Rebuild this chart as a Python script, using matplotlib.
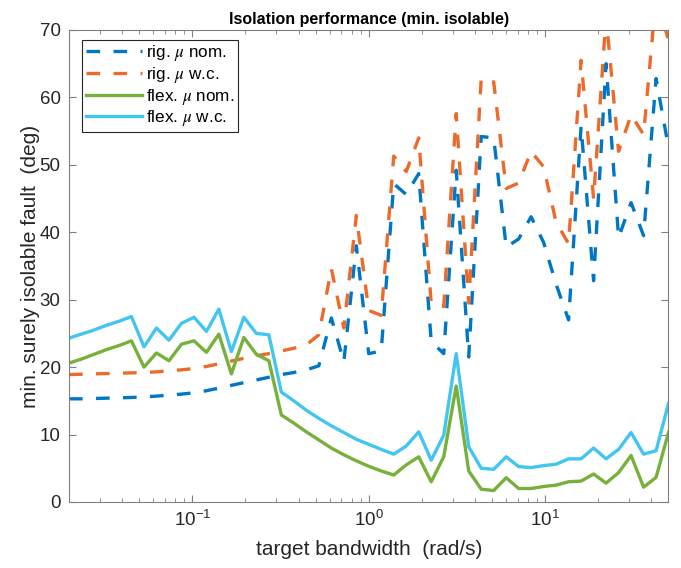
import matplotlib
matplotlib.use("Agg")
import matplotlib.pyplot as plt
from matplotlib.ticker import LogLocator, NullFormatter

plt.rcParams['font.family'] = ['Liberation Sans', 'DejaVu Sans']
plt.rcParams['mathtext.fontset'] = 'stix'

# target bandwidth grid (rad/s)
bandwidth = [0.02, 0.023544, 0.027715, 0.032626, 0.038406, 0.045211, 0.053221,
             0.062651, 0.073752, 0.086819, 0.10220, 0.12031, 0.14142, 0.16648,
             0.19598, 0.23070, 0.27158, 0.31970, 0.37634, 0.44302, 0.52152,
             0.61392, 0.72270, 0.85074, 1.0, 1.1772, 1.3857, 1.6312, 1.9203,
             2.2605, 2.6610, 3.1325, 3.6875, 4.3409, 5.1100, 6.0153, 7.0711,
             8.3239, 9.7987, 11.535, 13.578, 15.984, 18.816, 22.149, 26.073,
             30.693, 36.131, 42.532, 50.0]

rig_nom = [15.3, 15.3, 15.35, 15.4, 15.45, 15.5, 15.6, 15.7, 15.85, 16.0,
           16.2, 16.5, 16.9, 17.3, 17.7, 18.1, 18.5, 18.9, 19.2, 19.6,
           20.2, 27.3, 20.8, 38.0, 22.0, 22.4, 47.2, 45.6, 48.7, 23.8,
           22.0, 49.2, 21.5, 54.2, 54.0, 37.8, 39.0, 42.3, 38.5, 32.3,
           27.0, 55.7, 32.8, 65.0, 39.2, 44.4, 39.5, 62.8, 52.6]

rig_wc = [18.9, 18.95, 19.0, 19.05, 19.1, 19.15, 19.2, 19.3, 19.45, 19.6,
          19.8, 20.1, 20.5, 20.9, 21.3, 21.7, 22.0, 22.4, 22.8, 23.3,
          24.8, 34.6, 25.8, 42.5, 28.4, 27.7, 51.3, 49.0, 54.0, 29.5,
          29.0, 57.6, 29.5, 62.8, 62.3, 46.5, 47.3, 52.0, 49.7, 41.5,
          38.3, 65.5, 45.0, 72.0, 52.0, 57.4, 54.5, 75.0, 68.5]

flex_nom = [20.6, 21.2, 21.9, 22.6, 23.2, 23.9, 20.0, 22.1, 20.95, 23.4,
            23.9, 22.2, 24.9, 19.0, 24.4, 21.9, 20.95, 12.9, 11.7, 10.4,
            9.2, 8.0, 7.0, 6.1, 5.3, 4.6, 4.0, 5.5, 6.7, 3.0,
            6.7, 17.2, 4.6, 1.9, 1.7, 3.6, 2.0, 2.0, 2.3, 2.5,
            3.0, 3.1, 4.15, 2.8, 4.35, 6.9, 2.2, 3.65, 10.3]

flex_wc = [24.3, 24.9, 25.5, 26.2, 26.8, 27.5, 23.0, 25.8, 24.0, 26.5,
           27.4, 25.3, 28.6, 22.3, 27.4, 25.0, 24.8, 16.3, 15.0, 13.6,
           12.4, 11.3, 10.3, 9.3, 8.55, 7.8, 7.1, 8.3, 10.4, 6.2,
           9.9, 22.0, 8.2, 5.0, 4.85, 6.7, 5.25, 5.1, 5.4, 5.6,
           6.4, 6.4, 8.0, 6.4, 7.8, 10.3, 7.1, 7.6, 14.6]

labels = [r'rig. $\mu$ nom.', r'rig. $\mu$ w.c.', r'flex. $\mu$ nom.', r'flex. $\mu$ w.c.']
colors = ['#0077C4', '#EC6A2A', '#77B03A', '#42C6F0']

fig = plt.figure(figsize=(6.81, 5.68), dpi=100)
ax = fig.add_axes([0.1013, 0.1162, 0.8803, 0.831])

lw = 2.4
dash = (4.1, 4.0)
ax.plot(bandwidth, rig_nom, color=colors[0], lw=lw, linestyle=(0, dash), label=labels[0])
ax.plot(bandwidth, rig_wc, color=colors[1], lw=lw, linestyle=(0, dash), label=labels[1])
ax.plot(bandwidth, flex_nom, color=colors[2], lw=lw, label=labels[2])
ax.plot(bandwidth, flex_wc, color=colors[3], lw=lw, label=labels[3])

ax.set_xscale('log')
ax.set_xlim(0.02, 50)
ax.set_ylim(0, 70)
ax.set_yticks([0, 10, 20, 30, 40, 50, 60, 70])
ax.xaxis.set_major_locator(LogLocator(base=10, numticks=10))
ax.xaxis.set_minor_locator(LogLocator(base=10, subs=range(2, 10), numticks=20))
ax.xaxis.set_minor_formatter(NullFormatter())

for s in ax.spines.values():
    s.set_color('#808080')
    s.set_linewidth(0.8)
ax.tick_params(which='both', direction='in', top=True, right=True,
               colors='#808080', labelcolor='#262626', labelsize=13.5)
ax.tick_params(which='major', length=5, pad=6)
ax.tick_params(which='minor', length=2.8)

ax.set_xlabel('target bandwidth  (rad/s)', fontsize=15, color='#262626', labelpad=7)
ax.set_ylabel('min. surely isolable fault  (deg)', fontsize=15, color='#262626', labelpad=0)
ax.set_title('Isolation performance (min. isolable)', fontsize=11.5, fontweight='bold', pad=4)

leg = ax.legend(loc='upper left', bbox_to_anchor=(0.022, 0.979), borderaxespad=0,
                fontsize=12.3, handlelength=3.3, handletextpad=0.25, labelspacing=0.1,
                borderpad=0.2, fancybox=False, framealpha=1)
leg.get_frame().set_edgecolor('#262626')
leg.get_frame().set_linewidth(0.8)

fig.savefig('out.png', dpi=100)
